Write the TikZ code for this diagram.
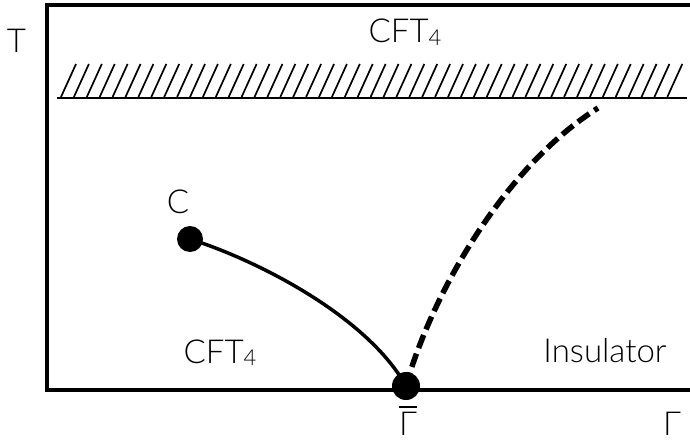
\documentclass[tikz,border=0pt]{standalone}
\usepackage{fontspec}
\setmainfont{Lato}[UprightFont=* Light]
\newcommand{\subfour}{\raisebox{-2.5pt}{\fontsize{22}{23}\selectfont 4}}
\begin{document}
\begin{tikzpicture}[x=1pt,y=-1pt,
  lbl/.style={font=\fontsize{33}{34}\selectfont, inner sep=0pt, anchor=base},
  frame/.style={line width=4.5pt, line cap=rect},
  dot/.style={circle, fill=black, inner sep=0pt},
  hatch/.style={line width=1.7pt},
  curve/.style={line width=3.5pt},
  dcurve/.style={line width=5.5pt, dash pattern=on 14pt off 6pt}]
\useasboundingbox (0,0) rectangle (690,441);
% frame
\draw[frame] (690,5) -- (47,5) -- (47,390) -- (690,390);
% hatched line
\draw[hatch] (57,98) -- (687,98);
\foreach \i in {0,...,47} {
  \draw[hatch] ({61+12.9*\i},97) -- ({76+12.9*\i},64);
}
% labels
\node[lbl] (T) at (16.5,53) {T};
\node[lbl] (top) at (405,43) {CFT\subfour};
\node[lbl] (left) at (220,363) {CFT\subfour};
\node[lbl] (ins) at (605,362) {Insulator};
\node[lbl] (gbar) at (408,435) {\ooalign{Γ\cr\hidewidth\rule[27pt]{18pt}{1.8pt}\hidewidth}};
\node[lbl] (g) at (672,435) {Γ};
\node[lbl] (clab) at (178,213) {C};
% points
\node[dot, minimum size=26pt] (C) at (190,239) {};
\node[dot, minimum size=28pt] (G) at (406,386) {};
\coordinate (E) at (598,108);
% curves
\draw[curve] (C.center) .. controls (262,262) and (368,318) .. (G.center);
\draw[dcurve] (G.center) .. controls (430,300) and (500,170) .. (E);
\end{tikzpicture}
\end{document}
